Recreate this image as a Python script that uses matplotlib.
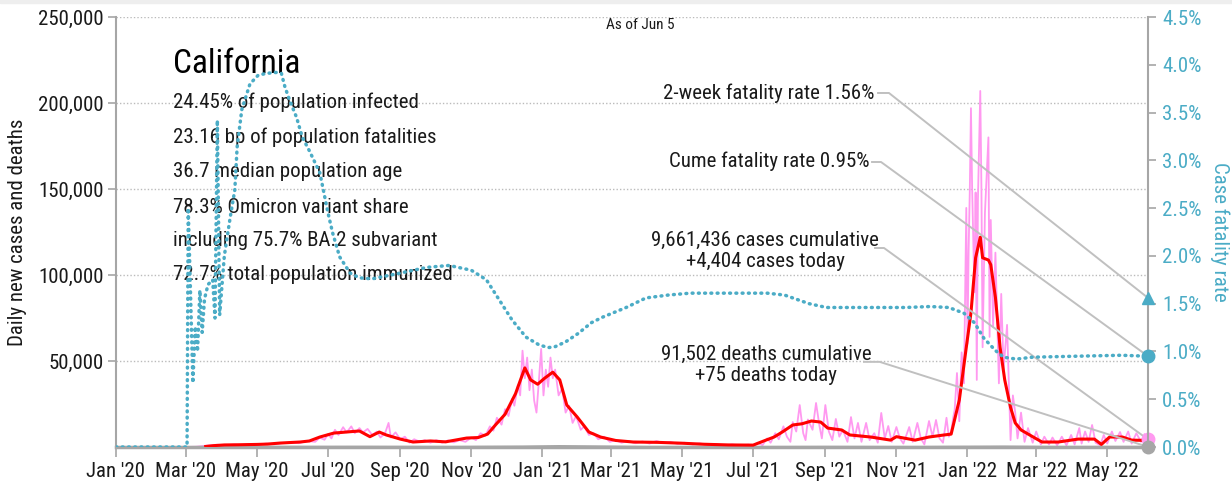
import matplotlib
matplotlib.use('Agg')
import matplotlib.pyplot as plt
import matplotlib.dates as mdates
import numpy as np
import pandas as pd
from matplotlib.ticker import FuncFormatter, FixedLocator
from matplotlib.patches import Rectangle

plt.rcParams['font.family'] = ['Roboto Condensed', 'DejaVu Sans']

# ---------------- data ----------------
avg_dates = ["2020-03-18", "2020-03-25", "2020-04-03", "2020-04-15", "2020-05-01", "2020-05-10",
             "2020-05-21", "2020-06-07", "2020-06-15", "2020-06-24", "2020-07-06", "2020-07-15",
             "2020-07-22", "2020-07-28", "2020-08-06", "2020-08-14", "2020-08-20", "2020-09-01",
             "2020-09-12", "2020-09-27", "2020-10-10", "2020-10-28", "2020-11-07", "2020-11-15",
             "2020-11-22", "2020-11-30", "2020-12-09", "2020-12-17", "2020-12-22", "2020-12-28",
             "2021-01-03", "2021-01-10", "2021-01-16", "2021-01-22", "2021-01-31", "2021-02-10",
             "2021-02-20", "2021-03-05", "2021-03-20", "2021-04-10", "2021-05-01", "2021-05-20",
             "2021-06-10", "2021-07-01", "2021-07-12", "2021-07-19", "2021-07-26", "2021-08-04",
             "2021-08-12", "2021-08-20", "2021-08-28", "2021-09-03", "2021-09-15", "2021-09-22",
             "2021-10-10", "2021-10-27", "2021-11-01", "2021-11-17", "2021-11-29", "2021-12-12",
             "2021-12-18", "2021-12-25", "2021-12-31", "2022-01-04", "2022-01-08", "2022-01-12",
             "2022-01-14", "2022-01-19", "2022-01-21", "2022-01-25", "2022-01-29", "2022-02-02",
             "2022-02-07", "2022-02-11", "2022-02-16", "2022-02-28", "2022-03-06", "2022-03-20",
             "2022-04-06", "2022-04-20", "2022-04-26", "2022-05-03", "2022-05-14", "2022-05-22",
             "2022-06-05"]
avg_cases = [300, 800, 1200, 1300, 1500, 1700,
             2300, 2900, 3500, 5800, 8100, 8600,
             9000, 9300, 6000, 8700, 7000, 4600,
             2900, 3500, 3000, 5200, 5500, 7500,
             13000, 19000, 31000, 46000, 39000, 36500,
             40000, 43500, 39000, 24400, 17400, 8700,
             5800, 3800, 2900, 2700, 2200, 1600,
             1200, 1100, 4000, 5800, 8700, 12800,
             13500, 15100, 14500, 11000, 9900, 7000,
             5800, 4000, 6000, 4000, 5800, 7000,
             7500, 27300, 58000, 78000, 110000, 122000,
             110000, 108700, 106000, 87000, 58000, 39000,
             23000, 14000, 9900, 5200, 2900, 2900,
             4600, 4600, 1500, 5800, 5800, 4000,
             3800]

daily_dates = ["2020-03-01", "2020-03-10", "2020-03-20", "2020-03-28", "2020-04-04", "2020-04-11",
               "2020-04-18", "2020-04-25", "2020-05-02", "2020-05-09", "2020-05-16", "2020-05-23",
               "2020-05-30", "2020-06-06", "2020-06-13", "2020-06-20", "2020-06-24", "2020-06-28",
               "2020-07-01", "2020-07-04", "2020-07-07", "2020-07-10", "2020-07-14", "2020-07-17",
               "2020-07-21", "2020-07-24", "2020-07-28", "2020-07-31", "2020-08-04", "2020-08-08",
               "2020-08-12", "2020-08-15", "2020-08-19", "2020-08-22", "2020-08-24", "2020-08-28",
               "2020-09-01", "2020-09-05", "2020-09-09", "2020-09-13", "2020-09-18", "2020-09-22",
               "2020-09-27", "2020-10-02", "2020-10-07", "2020-10-12", "2020-10-17", "2020-10-22",
               "2020-10-27", "2020-11-01", "2020-11-05", "2020-11-09", "2020-11-13", "2020-11-17",
               "2020-11-20", "2020-11-23", "2020-11-27", "2020-11-30", "2020-12-03", "2020-12-06",
               "2020-12-08", "2020-12-11", "2020-12-13", "2020-12-15", "2020-12-17", "2020-12-19",
               "2020-12-21", "2020-12-23", "2020-12-25", "2020-12-27", "2020-12-29", "2020-12-31",
               "2021-01-02", "2021-01-04", "2021-01-06", "2021-01-08", "2021-01-10", "2021-01-12",
               "2021-01-15", "2021-01-18", "2021-01-21", "2021-01-24", "2021-01-27", "2021-01-30",
               "2021-02-03", "2021-02-06", "2021-02-10", "2021-02-14", "2021-02-18", "2021-02-23",
               "2021-02-28", "2021-03-05", "2021-03-10", "2021-03-16", "2021-03-22", "2021-03-28",
               "2021-04-03", "2021-04-09", "2021-04-15", "2021-04-21", "2021-04-27", "2021-05-03",
               "2021-05-10", "2021-05-16", "2021-05-23", "2021-05-30", "2021-06-06", "2021-06-13",
               "2021-06-20", "2021-06-27", "2021-07-01", "2021-07-05", "2021-07-09", "2021-07-13",
               "2021-07-16", "2021-07-20", "2021-07-23", "2021-07-27", "2021-07-30", "2021-08-02",
               "2021-08-04", "2021-08-07", "2021-08-10", "2021-08-13", "2021-08-15", "2021-08-17",
               "2021-08-21", "2021-08-24", "2021-08-27", "2021-08-29", "2021-09-01", "2021-09-04",
               "2021-09-07", "2021-09-10", "2021-09-13", "2021-09-16", "2021-09-20", "2021-09-23",
               "2021-09-26", "2021-09-29", "2021-10-02", "2021-10-06", "2021-10-09", "2021-10-13",
               "2021-10-16", "2021-10-19", "2021-10-22", "2021-10-25", "2021-10-28", "2021-11-01",
               "2021-11-04", "2021-11-07", "2021-11-12", "2021-11-15", "2021-11-19", "2021-11-22",
               "2021-11-25", "2021-11-29", "2021-12-02", "2021-12-05", "2021-12-08", "2021-12-11",
               "2021-12-14", "2021-12-16", "2021-12-18", "2021-12-20", "2021-12-21", "2021-12-23",
               "2021-12-25", "2021-12-27", "2021-12-29", "2021-12-31", "2022-01-01", "2022-01-02",
               "2022-01-03", "2022-01-04", "2022-01-05", "2022-01-07", "2022-01-08", "2022-01-09",
               "2022-01-10", "2022-01-12", "2022-01-13", "2022-01-14", "2022-01-16", "2022-01-19",
               "2022-01-20", "2022-01-21", "2022-01-23", "2022-01-25", "2022-01-28", "2022-01-30",
               "2022-02-01", "2022-02-04", "2022-02-07", "2022-02-09", "2022-02-11", "2022-02-13",
               "2022-02-16", "2022-02-19", "2022-02-22", "2022-02-26", "2022-03-01", "2022-03-05",
               "2022-03-08", "2022-03-12", "2022-03-15", "2022-03-19", "2022-03-23", "2022-03-27",
               "2022-03-31", "2022-04-03", "2022-04-07", "2022-04-09", "2022-04-12", "2022-04-15",
               "2022-04-18", "2022-04-21", "2022-04-25", "2022-04-28", "2022-05-01", "2022-05-05",
               "2022-05-08", "2022-05-12", "2022-05-15", "2022-05-19", "2022-05-22", "2022-05-26",
               "2022-05-30", "2022-06-02", "2022-06-05"]
daily_cases = [0, 150, 900, 1300, 1000, 1400,
               1100, 1800, 1300, 2000, 1600, 2300,
               2600, 2200, 3500, 3000, 5500, 4200,
               7500, 5000, 10000, 7000, 11500, 8500,
               12000, 8000, 11000, 8500, 10500, 7000,
               9000, 5500, 8000, 14000, 5500, 8500,
               4500, 6000, 2500, 4500, 3000, 4000,
               2500, 4000, 2500, 3800, 2700, 4000,
               3000, 5500, 4000, 8000, 6500, 12000,
               9500, 17000, 13000, 22000, 18000, 28000,
               24000, 36000, 30000, 56000, 40000, 52000,
               33000, 45000, 27000, 20000, 38000, 57000,
               30000, 45000, 35000, 52000, 40000, 45000,
               30000, 34000, 20000, 24000, 14000, 18000,
               10000, 12000, 7000, 8000, 4500, 6000,
               3000, 4000, 2500, 3500, 2200, 3200,
               2000, 3500, 2300, 3000, 1800, 2500,
               1500, 2100, 1200, 1800, 900, 1500,
               800, 1400, 500, 2500, 1000, 5000,
               2500, 8000, 4500, 12000, 6000, 3000,
               14500, 9000, 24400, 8000, 4000, 16000,
               10000, 25600, 12000, 5000, 24400, 9000,
               4000, 16300, 6000, 10000, 3000, 17400,
               5000, 14000, 3000, 14000, 4000, 8000,
               2500, 19800, 5000, 12200, 3000, 11600,
               5000, 2000, 11600, 3000, 14000, 5000,
               1500, 15100, 6000, 15700, 5000, 2500,
               17000, 6000, 9000, 18000, 21500, 43000,
               15000, 55000, 37000, 139000, 60000, 114000,
               149000, 197000, 151000, 90000, 148000, 39000,
               144000, 207000, 150000, 58000, 136000, 180000,
               64000, 132000, 70000, 113000, 37000, 89000,
               45000, 71000, 4000, 30000, 20000, 5000,
               20000, 3000, 11000, 2500, 9000, 1500,
               6000, 1500, 5500, 1000, 6000, 1000,
               7000, 1500, 11000, 2000, 9000, 3000,
               12800, 2500, 1000, 7000, 2000, 9000,
               3500, 8700, 3000, 9000, 2000, 8000,
               3000, 7500, 4404]

death_dates = ["2020-01-01", "2020-03-10", "2020-04-15", "2020-08-01", "2020-10-15", "2020-12-15",
               "2021-01-15", "2021-02-15", "2021-04-01", "2021-07-01", "2021-09-01", "2021-11-15",
               "2022-02-01", "2022-03-15", "2022-06-05"]
daily_deaths = [0, 0, 80, 130, 60, 250,
                550, 350, 60, 20, 100, 40,
                250, 60, 75]

cfr_dates = ["2020-01-01", "2020-03-02", "2020-03-03", "2020-03-05", "2020-03-07", "2020-03-09",
             "2020-03-11", "2020-03-13", "2020-03-15", "2020-03-17", "2020-03-20", "2020-03-24",
             "2020-03-26", "2020-03-28", "2020-03-30", "2020-04-03", "2020-04-08", "2020-04-12",
             "2020-04-14", "2020-04-18", "2020-04-25", "2020-05-02", "2020-05-09", "2020-05-18",
             "2020-05-22", "2020-05-25", "2020-05-29", "2020-06-04", "2020-06-09", "2020-06-15",
             "2020-06-24", "2020-07-01", "2020-07-05", "2020-07-11", "2020-07-20", "2020-07-28",
             "2020-08-08", "2020-09-01", "2020-09-24", "2020-10-13", "2020-11-01", "2020-11-14",
             "2020-11-25", "2020-12-06", "2020-12-18", "2020-12-29", "2021-01-06", "2021-01-12",
             "2021-01-21", "2021-02-01", "2021-02-12", "2021-02-22", "2021-03-14", "2021-03-31",
             "2021-04-19", "2021-05-08", "2021-06-14", "2021-07-13", "2021-07-28", "2021-08-18",
             "2021-09-02", "2021-10-01", "2021-11-09", "2021-11-30", "2021-12-16", "2021-12-29",
             "2022-01-07", "2022-01-15", "2022-01-25", "2022-02-01", "2022-02-12", "2022-02-26",
             "2022-04-04", "2022-05-13", "2022-06-05"]
cfr_pct = [0.0, 0.0, 2.50, 1.60, 0.67, 1.26,
           1.00, 1.64, 1.20, 1.55, 1.70, 1.75,
           1.35, 3.42, 1.38, 2.00, 2.40, 2.69,
           3.14, 3.53, 3.80, 3.89, 3.91, 3.92,
           3.91, 3.77, 3.63, 3.45, 3.24, 3.10,
           2.87, 2.45, 2.24, 1.99, 1.82, 1.77,
           1.76, 1.82, 1.88, 1.90, 1.85, 1.75,
           1.54, 1.33, 1.15, 1.07, 1.04, 1.05,
           1.10, 1.19, 1.30, 1.36, 1.46, 1.56,
           1.59, 1.61, 1.61, 1.61, 1.59, 1.50,
           1.46, 1.46, 1.46, 1.47, 1.46, 1.40,
           1.30, 1.14, 1.01, 0.94, 0.92, 0.94,
           0.95, 0.96, 0.95]

state_name = "California"
stats_lines = ["24.45% of population infected",
               "23.16 bp of population fatalities",
               "36.7 median population age",
               "78.3% Omicron variant share",
               "including 75.7% BA.2 subvariant",
               "72.7% total population immunized"]
as_of = "As of Jun 5"
last_date = "2022-06-05"
cum_cases = 9661436
new_cases = 4404
cum_deaths = 91502
new_deaths = 75
cfr_2wk = 1.56
cfr_cume = 0.95

left_ticks = [50000, 100000, 150000, 200000, 250000]
right_ticks = [0.0, 0.5, 1.0, 1.5, 2.0, 2.5, 3.0, 3.5, 4.0, 4.5]

# ---------------- styling ----------------
TEAL = '#4BACC6'
PINK = '#FF99F0'
RED = '#FF0000'
GRAY = '#A6A6A6'
LEADER = '#C0C0C0'
TXT = '#1A1A1A'
FS = 15

fig = plt.figure(figsize=(12.32, 4.86), dpi=100)
fig.patches.append(Rectangle((0, 0.994), 1, 0.006, transform=fig.transFigure,
                             color='#EEEEEE', zorder=0))
ax = fig.add_axes([116/1232, 39/486, 1032/1232, 430/486])
ax2 = ax.twinx()

to_dt = pd.to_datetime
ax.plot(to_dt(daily_dates), daily_cases, color=PINK, lw=1.3, zorder=2)
ax.plot(to_dt(avg_dates), avg_cases, color=RED, lw=2.2, zorder=3)
ax.plot(to_dt(death_dates), daily_deaths, color=GRAY, lw=1.5, zorder=2.5)
ax2.plot(to_dt(cfr_dates), cfr_pct, color=TEAL, lw=2.5,
         linestyle=(0, (0.25, 1.55)), dash_capstyle='round', zorder=3)

end = to_dt(last_date)
ax.set_xlim(to_dt("2020-01-01"), end)
ax.set_ylim(0, 250000)
ax2.set_ylim(0, 4.5)

# end markers
ax.plot([end], [new_cases], 'o', color=PINK, ms=9, clip_on=False, zorder=6)
ax.plot([end], [new_deaths], 'o', color=GRAY, ms=9, clip_on=False, zorder=6)
ax2.plot([end], [cfr_2wk], '^', color=TEAL, ms=9, clip_on=False, zorder=6)
ax2.plot([end], [cfr_cume], 'o', color=TEAL, ms=9, clip_on=False, zorder=6)

# axes styling
for a in (ax, ax2):
    a.spines['top'].set_visible(False)
ax.spines['right'].set_visible(False)
ax2.spines['left'].set_visible(False)
ax2.spines['bottom'].set_visible(False)
ax.spines['left'].set_color(GRAY)
ax.spines['left'].set_linewidth(1.5)
ax.spines['bottom'].set_color(GRAY)
ax.spines['bottom'].set_linewidth(2.5)
ax2.spines['right'].set_color(GRAY)
ax2.spines['right'].set_linewidth(1.5)

ax.yaxis.set_major_locator(FixedLocator(left_ticks))
ax.yaxis.set_major_formatter(FuncFormatter(lambda v, p: f"{int(v):,}"))
ax2.yaxis.set_major_locator(FixedLocator(right_ticks))
ax2.yaxis.set_major_formatter(FuncFormatter(lambda v, p: f"{v:.1f}%"))
ax.xaxis.set_major_locator(mdates.MonthLocator(bymonth=[1, 3, 5, 7, 9, 11]))
ax.xaxis.set_major_formatter(mdates.DateFormatter("%b '%y"))

ax.tick_params(axis='y', length=6, width=1.2, color=GRAY, labelsize=FS, labelcolor=TXT, pad=3)
ax.tick_params(axis='x', length=7, width=1.2, color=GRAY, labelsize=FS, labelcolor=TXT, pad=4)
ax2.tick_params(axis='y', length=6, width=1.2, color=GRAY, labelsize=FS, labelcolor=TEAL, pad=4)

ax.grid(axis='y', linestyle=(0, (1, 1.5)), color='#BBBBBB', lw=1.0, zorder=0)
ax.set_axisbelow(True)

ax.set_ylabel("Daily new cases and deaths", fontsize=FS, color=TXT, labelpad=8)
ax2.set_ylabel("Case fatality rate", fontsize=FS, color=TEAL, rotation=270, labelpad=20)

# texts
ax.text(0.0552, 0.870, state_name, transform=ax.transAxes, fontsize=24, color='black',
        ha='left', va='baseline', zorder=7)
stat_y = [0.802, 0.721, 0.640, 0.558, 0.481, 0.400]
for s, yy in zip(stats_lines, stat_y):
    ax.text(0.0552, yy, s, transform=ax.transAxes, fontsize=FS, color=TXT,
            ha='left', va='center', zorder=7)
ax.text(0.508, 0.981, as_of, transform=ax.transAxes, fontsize=11, color=TXT,
        ha='center', va='center')

ax.text(0.7345, 0.823, f"2-week fatality rate {cfr_2wk:.2f}%", transform=ax.transAxes,
        fontsize=FS, color=TXT, ha='right', va='center', zorder=7)
ax.text(0.7297, 0.665, f"Cume fatality rate {cfr_cume:.2f}%", transform=ax.transAxes,
        fontsize=FS, color=TXT, ha='right', va='center', zorder=7)
ax.text(0.629, 0.456, f"{cum_cases:,} cases cumulative\n+{new_cases:,} cases today",
        transform=ax.transAxes, fontsize=FS, color=TXT, ha='center', va='center',
        multialignment='center', linespacing=1.15, zorder=7)
ax.text(0.630, 0.191, f"{cum_deaths:,} deaths cumulative\n+{new_deaths:,} deaths today",
        transform=ax.transAxes, fontsize=FS, color=TXT, ha='center', va='center',
        multialignment='center', linespacing=1.15, zorder=7)

# leader lines (start near text, end at the data markers)
to_axes = ax.transAxes.inverted()
endx = mdates.date2num(end)
def leader(x0, x1, y0, trans, yval):
    ex, ey = to_axes.transform(trans.transform((endx, yval)))
    ax.plot([x0, x1, ex], [y0, y0, ey], color=LEADER, lw=1.4, transform=ax.transAxes,
            clip_on=False, zorder=5)

leader(0.7384, 0.749, 0.8233, ax2.transData, cfr_2wk)
leader(0.7326, 0.7413, 0.6628, ax2.transData, cfr_cume)
leader(0.7355, 0.7442, 0.4628, ax.transData, new_cases)
leader(0.7248, 0.740, 0.198, ax.transData, new_deaths)

fig.savefig("out.png", dpi=100)
